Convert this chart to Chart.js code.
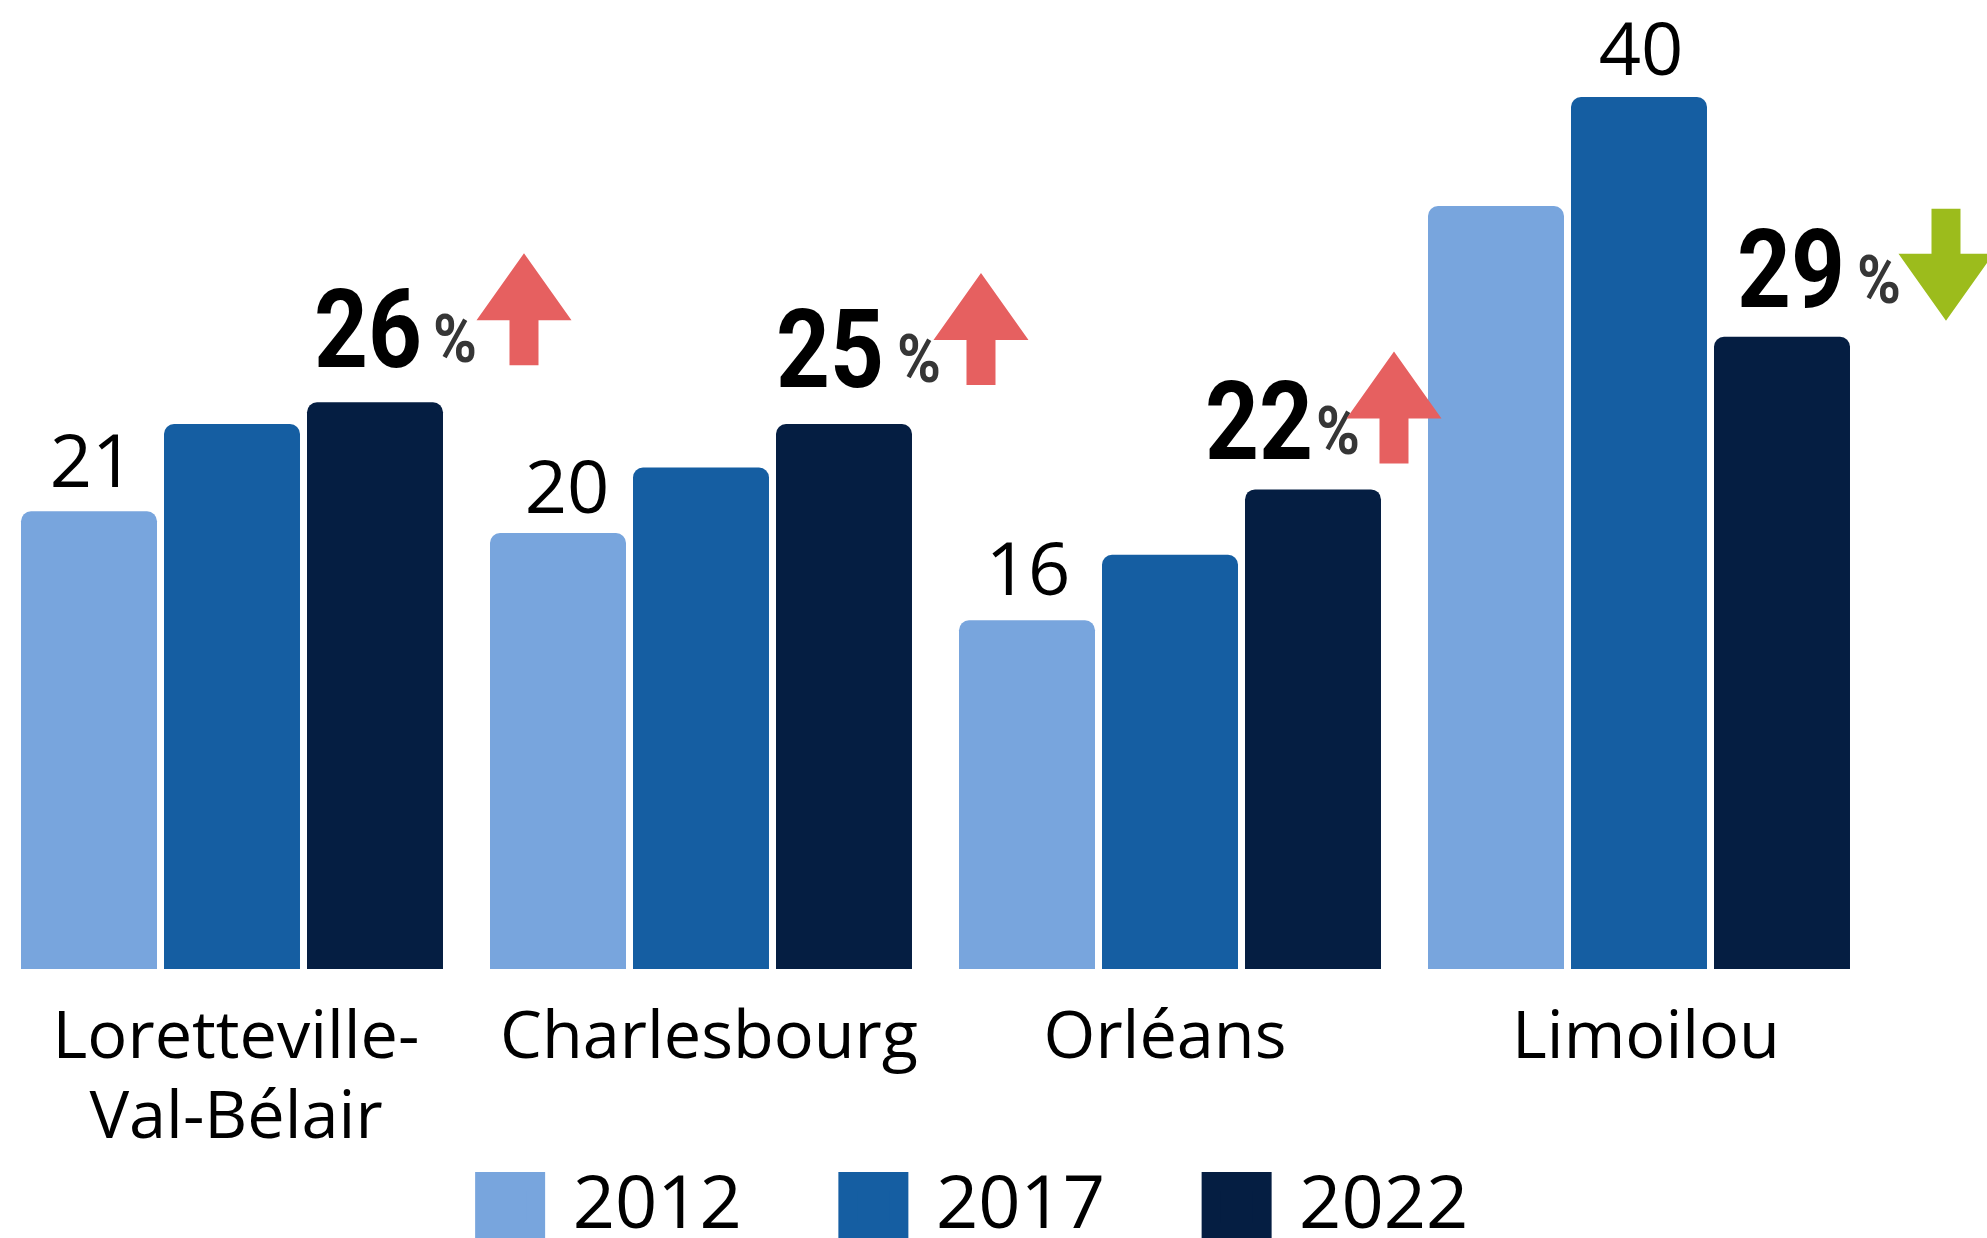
<!DOCTYPE html>
<html lang="fr">
<head>
<meta charset="utf-8">
<title>Loretteville-Val-Bélair, Charlesbourg, Orléans, Limoilou</title>
<script src="https://cdn.jsdelivr.net/npm/chart.js@4"></script>
<style>
    html, body { margin: 0; width: 1987px; height: 1238px; overflow: hidden; background: #fff; }
    canvas { position: absolute; left: -3px; top: 0; }
</style>
</head>
<body>
<canvas id="chart" width="1996" height="1254"></canvas>
<script>
const categories = [['Loretteville-', 'Val-Bélair'], 'Charlesbourg', 'Orléans', 'Limoilou'];
const years = ['2012', '2017', '2022'];
const values2012 = [21, 20, 16, 35];
const values2017 = [25, 23, 19, 40];
const values2022 = [26, 25, 22, 29];
const seriesColors = ['#78A5DD', '#155EA2', '#051E42'];
const labelledSeries = [0, 0, 0, 1];
const trend = ['up', 'up', 'up', 'down'];

// hand placement around the bars, offsets in px
const tickNudge = [4, 8, -5, 7];
const valueLabelNudge = [[3, 24], [9, 20], [1, 25], [2, 22]];
const noteOffsets = [
    { num: -61, base: 35, pct: 58, pctBase: 40, arrow: 149, arrowBottom: 37 },
    { num: -68, base: 37, pct: 53, pctBase: 42, arrow: 137, arrowBottom: 39 },
    { num: -108, base: 30, pct: 3, pctBase: 35, arrow: 81, arrowBottom: 26 },
    { num: -45, base: 30, pct: 75, pctBase: 34, arrow: 164, arrowBottom: 16 }
];

function drawArrow(ctx, x, y, dir, color) {
    // y is the end of the stem, the head points away from it
    const s = dir === 'up' ? -1 : 1;
    ctx.fillStyle = color;
    ctx.beginPath();
    ctx.moveTo(x - 14.5, y);
    ctx.lineTo(x - 14.5, y + s * 45);
    ctx.lineTo(x - 47.5, y + s * 45);
    ctx.lineTo(x, y + s * 112);
    ctx.lineTo(x + 47.5, y + s * 45);
    ctx.lineTo(x + 14.5, y + s * 45);
    ctx.lineTo(x + 14.5, y);
    ctx.closePath();
    ctx.fill();
}

const notesPlugin = {
    id: 'notes',
    afterLayout(chart) {
        const xScale = chart.scales.x;
        xScale.getLabelItems().forEach((item, i) => {
            item.options.translation[0] += tickNudge[i];
        });
        // labels are clipped to the axis box, the second line runs past the fitted height
        xScale.bottom += 110;
        chart.legend.left += 41;
        chart.legend.right += 41;
    },
    afterDatasetsDraw(chart) {
        const { ctx } = chart;
        ctx.save();
        ctx.textAlign = 'center';
        ctx.textBaseline = 'alphabetic';
        ctx.fillStyle = '#000';
        ctx.font = "74px 'Open Sans'";
        labelledSeries.forEach((series, i) => {
            const bar = chart.getDatasetMeta(series).data[i];
            const value = chart.data.datasets[series].data[i];
            ctx.fillText(String(value), bar.x + valueLabelNudge[i][0], bar.y - valueLabelNudge[i][1]);
        });

        ctx.textAlign = 'left';
        values2022.forEach((value, i) => {
            const bar = chart.getDatasetMeta(2).data[i];
            const o = noteOffsets[i];
            ctx.fillStyle = '#000';
            ctx.font = "700 110px Roboto";
            ctx.fillText(String(value), bar.x + o.num, bar.y - o.base, 108);
            ctx.fillStyle = '#363636';
            ctx.font = "700 66px Roboto";
            ctx.fillText('%', bar.x + o.pct, bar.y - o.pctBase, 44);
            const up = trend[i] === 'up';
            const stemEnd = up ? bar.y - o.arrowBottom : bar.y - o.arrowBottom - 112;
            drawArrow(ctx, bar.x + o.arrow, stemEnd, trend[i], up ? '#E66060' : '#9CBC1C');
        });
        ctx.restore();
    }
};

new Chart(document.getElementById('chart'), {
    type: 'bar',
    data: {
        labels: categories,
        datasets: [values2012, values2017, values2022].map((data, i) => ({
            label: years[i],
            data,
            backgroundColor: seriesColors[i],
            barPercentage: 0.951,
            categoryPercentage: 0.9147,
            borderRadius: { topLeft: 10, topRight: 10 },
            borderSkipped: 'bottom'
        }))
    },
    plugins: [notesPlugin],
    options: {
        responsive: false,
        animation: false,
        layout: { padding: { top: 97, left: 0.5, right: 119.5, bottom: 0 } },
        plugins: {
            tooltip: { enabled: false },
            legend: {
                position: 'bottom',
                labels: {
                    color: '#000',
                    font: { family: "'Open Sans'", size: 74 },
                    boxWidth: 51,
                    boxHeight: 51,
                    padding: 106,
                    generateLabels(chart) {
                        return Chart.defaults.plugins.legend.labels.generateLabels(chart).map((item) => ({
                            ...item,
                            strokeStyle: item.fillStyle,
                            lineWidth: 19
                        }));
                    }
                }
            }
        },
        scales: {
            x: {
                grid: { display: false },
                border: { display: false },
                afterFit(scale) { scale.height = 95; },
                ticks: {
                    color: '#000',
                    padding: 22,
                    maxRotation: 0,
                    autoSkip: false,
                    font: { family: "'Open Sans'", size: 66.6, lineHeight: 1.2 }
                }
            },
            y: {
                display: false,
                min: 0,
                max: 40
            }
        }
    }
});
</script>
</body>
</html>
